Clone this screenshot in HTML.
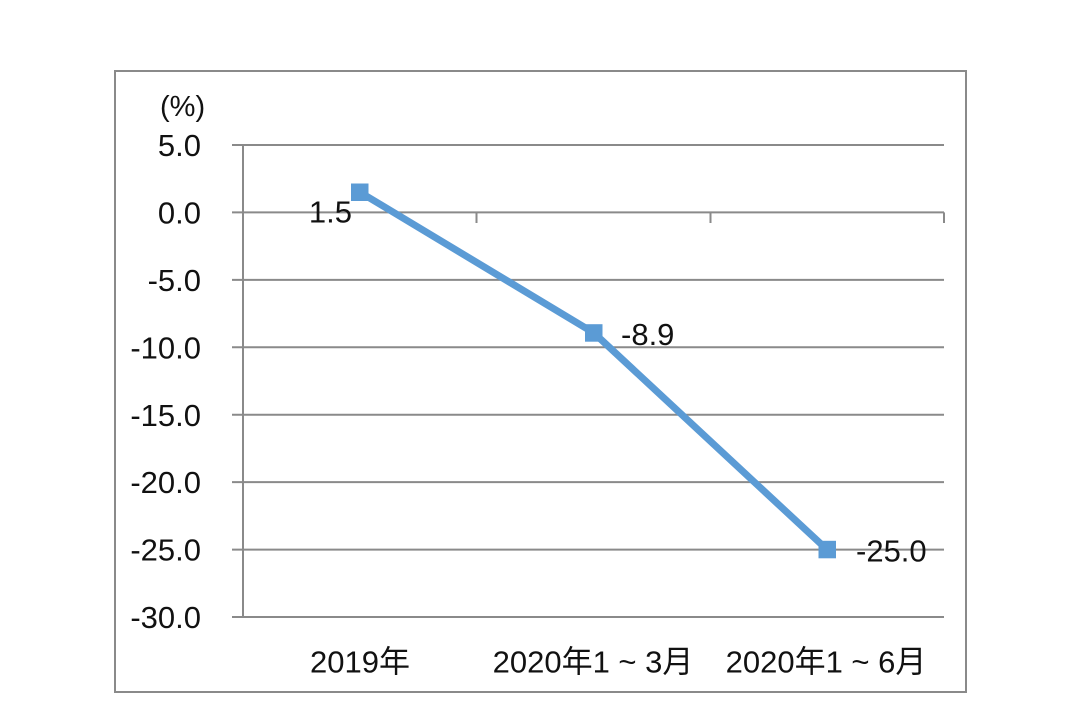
<!DOCTYPE html>
<html>
<head>
<meta charset="utf-8">
<style>
  html,body{margin:0;padding:0;background:#fff;}
  svg{display:block;}
  text{font-family:"Liberation Sans","Noto Sans CJK SC",sans-serif;fill:#111;}
</style>
</head>
<body>
<svg width="1080" height="705" viewBox="0 0 1080 705" xmlns="http://www.w3.org/2000/svg">
  <rect x="0" y="0" width="1080" height="705" fill="#fff"/>
  <!-- outer border -->
  <rect x="115" y="71" width="851" height="621" fill="none" stroke="#8a8a8a" stroke-width="2"/>

  <!-- gridlines -->
  <g stroke="#8a8a8a" stroke-width="2">
    <line x1="232" y1="145" x2="944" y2="145"/>
    <line x1="232" y1="212.4" x2="944" y2="212.4"/>
    <line x1="232" y1="279.9" x2="944" y2="279.9"/>
    <line x1="232" y1="347.3" x2="944" y2="347.3"/>
    <line x1="232" y1="414.7" x2="944" y2="414.7"/>
    <line x1="232" y1="482.1" x2="944" y2="482.1"/>
    <line x1="232" y1="549.6" x2="944" y2="549.6"/>
    <line x1="232" y1="617" x2="944" y2="617"/>
    <!-- y axis -->
    <line x1="243" y1="145" x2="243" y2="617"/>
    <!-- category ticks -->
    <line x1="476.5" y1="212.4" x2="476.5" y2="223"/>
    <line x1="710.5" y1="212.4" x2="710.5" y2="223"/>
    <line x1="944" y1="212.4" x2="944" y2="223"/>
  </g>

  <!-- y labels -->
  <g font-size="31" text-anchor="end">
    <text x="201" y="156">5.0</text>
    <text x="201" y="223.5">0.0</text>
    <text x="201" y="291">-5.0</text>
    <text x="201" y="358.4">-10.0</text>
    <text x="201" y="425.8">-15.0</text>
    <text x="201" y="493.2">-20.0</text>
    <text x="201" y="560.7">-25.0</text>
    <text x="201" y="628.1">-30.0</text>
  </g>
  <text x="160" y="116" font-size="29">(%)</text>

  <!-- x labels -->
  <g font-size="31" text-anchor="middle">
    <text x="360" y="672.5">2019年</text>
    <text x="593" y="672.5" xml:space="preserve">2020年1 ~ 3月</text>
    <text x="826" y="672.5" xml:space="preserve">2020年1 ~ 6月</text>
  </g>

  <!-- series -->
  <polyline points="360,192.2 594,333 827,549.6" fill="none" stroke="#5b9bd5" stroke-width="7" stroke-linejoin="round"/>
  <rect x="351" y="183.5" width="17.5" height="17.5" fill="#5b9bd5"/>
  <rect x="585" y="324.2" width="17.5" height="17.5" fill="#5b9bd5"/>
  <rect x="818.5" y="540.8" width="17.5" height="17.5" fill="#5b9bd5"/>

  <!-- data labels -->
  <g font-size="31">
    <text x="352" y="222.6" text-anchor="end">1.5</text>
    <text x="621" y="345">-8.9</text>
    <text x="856" y="561.5">-25.0</text>
  </g>
</svg>
</body>
</html>
